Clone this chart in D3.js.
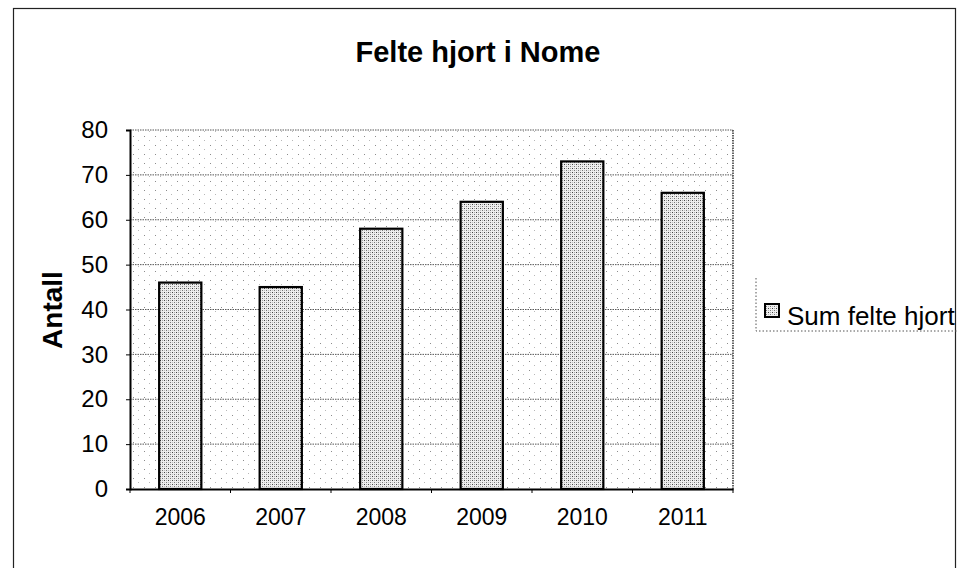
<!DOCTYPE html>
<html>
<head>
<meta charset="utf-8">
<script src="https://cdn.jsdelivr.net/npm/d3@7"></script>
<style>
  html, body { margin: 0; padding: 0; background: #fff; }
  svg { display: block; }
  text { font-family: "Liberation Sans", Arial, sans-serif; fill: #000; }
</style>
</head>
<body>
<svg id="chart" width="958" height="568"></svg>
<script>
const chartTitle = "Felte hjort i Nome";
const yAxisTitle = "Antall";
const seriesName = "Sum felte hjort";
const years = ["2006", "2007", "2008", "2009", "2010", "2011"];
const values = [46, 45, 58, 64, 73, 66];
const yTicks = [0, 10, 20, 30, 40, 50, 60, 70, 80];

const svg = d3.select("#chart");
const plot = { left: 130, right: 733, top: 130, bottom: 489 };

const defs = svg.append("defs");
// sparse stipple for plot background
const bgPat = defs.append("pattern").attr("id", "bgdots")
  .attr("width", 11).attr("height", 9).attr("patternUnits", "userSpaceOnUse");
bgPat.append("rect").attr("x", 1).attr("y", 1).attr("width", 1).attr("height", 1).attr("fill", "#8c8c8c");
bgPat.append("rect").attr("x", 6).attr("y", 5).attr("width", 1).attr("height", 1).attr("fill", "#b8b8b8");
// dense stipple for bars
const barPat = defs.append("pattern").attr("id", "bardots")
  .attr("width", 4).attr("height", 4).attr("patternUnits", "userSpaceOnUse");
barPat.append("rect").attr("width", 4).attr("height", 4).attr("fill", "#eeeeee");
barPat.append("rect").attr("x", 0).attr("y", 0).attr("width", 1).attr("height", 1).attr("fill", "#444");
barPat.append("rect").attr("x", 2).attr("y", 2).attr("width", 1).attr("height", 1).attr("fill", "#777");
barPat.append("rect").attr("x", 2).attr("y", 0).attr("width", 1).attr("height", 1).attr("fill", "#a8a8a8");
barPat.append("rect").attr("x", 0).attr("y", 2).attr("width", 1).attr("height", 1).attr("fill", "#bdbdbd");

// outer chart border
svg.append("rect").attr("x", 13.5).attr("y", 8.5).attr("width", 942).attr("height", 570)
  .attr("fill", "none").attr("stroke", "#222").attr("stroke-width", 1.2);

const x = d3.scaleBand().domain(years).range([plot.left, plot.right]).paddingInner(0.58).paddingOuter(0.29);
const y = d3.scaleLinear().domain([0, 80]).range([plot.bottom, plot.top]);

// plot background
svg.append("rect").attr("x", plot.left).attr("y", plot.top)
  .attr("width", plot.right - plot.left).attr("height", plot.bottom - plot.top)
  .attr("fill", "url(#bgdots)");

// gridlines
svg.append("g").selectAll("line").data(yTicks.filter(d => d > 0)).join("line")
  .attr("x1", plot.left).attr("x2", plot.right)
  .attr("y1", d => y(d)).attr("y2", d => y(d))
  .attr("stroke", "#555").attr("stroke-width", 1).attr("stroke-dasharray", "1.5,1");

// right border (dotted)
svg.append("line").attr("x1", plot.right).attr("x2", plot.right)
  .attr("y1", plot.top).attr("y2", plot.bottom)
  .attr("stroke", "#333").attr("stroke-width", 1.5).attr("stroke-dasharray", "1.5,1");

// bars
svg.append("g").selectAll("rect").data(values).join("rect")
  .attr("x", (d, i) => x(years[i]))
  .attr("y", d => y(d))
  .attr("width", x.bandwidth())
  .attr("height", d => plot.bottom - y(d))
  .attr("fill", "url(#bardots)")
  .attr("stroke", "#000").attr("stroke-width", 2.2);

// y axis
const yAxis = svg.append("g").attr("transform", `translate(${plot.left},0)`)
  .call(d3.axisLeft(y).tickValues(yTicks).tickSize(4).tickPadding(18));
yAxis.select(".domain").attr("stroke", "#000").attr("stroke-width", 2);
yAxis.selectAll(".tick line").attr("stroke", "#000");
yAxis.selectAll("text").style("font-size", "24px").attr("fill", "#000");

// x axis
const xBound = d3.scaleLinear().domain([0, years.length]).range([plot.left, plot.right]);
const xAxis = svg.append("g").attr("transform", `translate(0,${plot.bottom})`)
  .call(d3.axisBottom(x).tickSize(0).tickPadding(20));
xAxis.select(".domain").attr("stroke", "#000").attr("stroke-width", 2);
xAxis.selectAll("text").style("font-size", "23px").attr("fill", "#000");
xAxis.append("g").selectAll("line").data(d3.range(years.length + 1)).join("line")
  .attr("x1", d => xBound(d)).attr("x2", d => xBound(d))
  .attr("y1", 0).attr("y2", 4).attr("stroke", "#000");

// title
svg.append("text").attr("x", 478).attr("y", 62).attr("text-anchor", "middle")
  .style("font-size", "29px").style("font-weight", "bold").text(chartTitle);

// y axis title
svg.append("text").attr("transform", "translate(62,310) rotate(-90)")
  .attr("text-anchor", "middle")
  .style("font-size", "28px").style("font-weight", "bold").text(yAxisTitle);

// legend
const lg = svg.append("g");
lg.append("path").attr("d", "M756,278 V331 H958")
  .attr("fill", "none").attr("stroke", "#555").attr("stroke-dasharray", "1.5,2");
lg.append("rect").attr("x", 765).attr("y", 304).attr("width", 14).attr("height", 13)
  .attr("fill", "url(#bardots)").attr("stroke", "#000").attr("stroke-width", 2);
lg.append("text").attr("x", 787).attr("y", 325)
  .style("font-size", "26px").text(seriesName);
</script>
</body>
</html>
